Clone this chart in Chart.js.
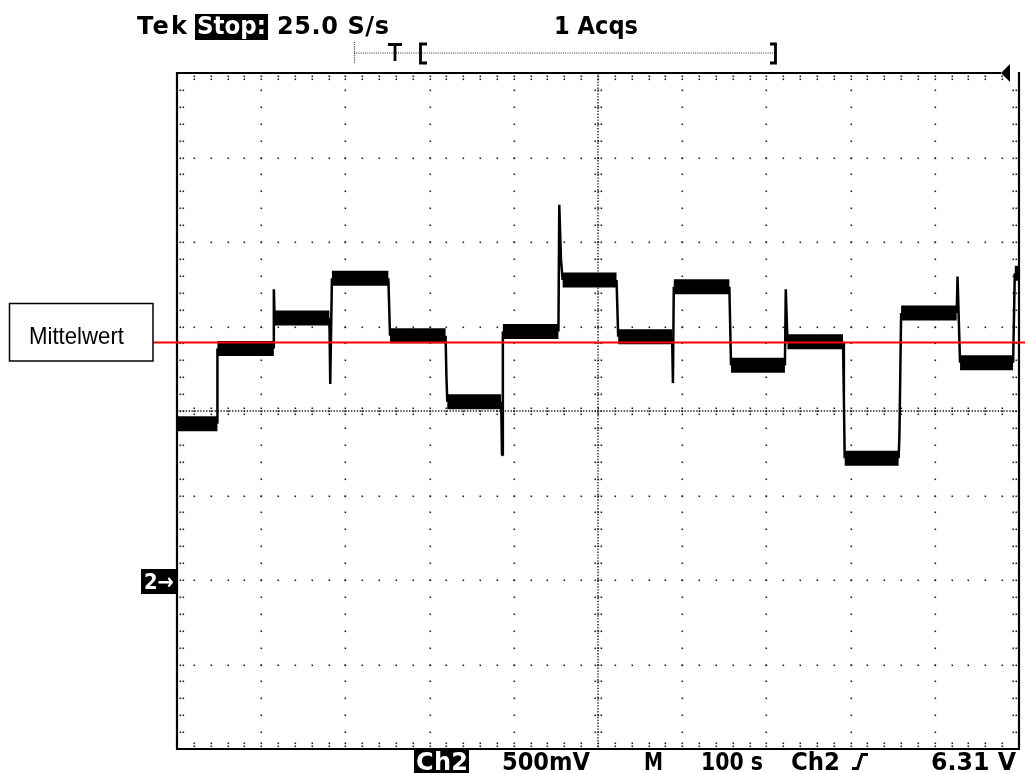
<!DOCTYPE html>
<html>
<head>
<meta charset="utf-8">
<script src="https://cdn.jsdelivr.net/npm/chart.js@4.4.1/dist/chart.umd.min.js"></script>
<style>
  html, body { margin: 0; padding: 0; background: #fff; }
  #wrap { position: relative; width: 1025px; height: 773px; }
</style>
</head>
<body>
<div id="wrap"><canvas id="scope"></canvas></div>
<script>
// Ch2 trace: time in s (100 s/div), volts above the "2->" marker (500 mV/div)
const traceTime = [0, 48, 48, 115, 115, 116, 181, 182, 184, 251, 253, 319, 320, 321, 385, 386, 387,
  453, 454, 456, 458, 522, 524, 588, 589, 590, 656, 658, 722, 723, 725, 791, 792, 793,
  857, 858, 860, 926, 927, 930, 993, 995, 1000];
const traceVolt = [0.925, 0.925, 1.37, 1.37, 1.72, 1.55, 1.55, 1.16, 1.785, 1.785, 1.445, 1.445, 1.2, 1.055, 1.055, 0.74, 1.47,
  1.47, 2.22, 1.90, 1.775, 1.775, 1.44, 1.44, 1.165, 1.735, 1.735, 1.27, 1.27, 1.72, 1.41, 1.41, 1.08, 0.72,
  0.72, 0.86, 1.58, 1.58, 1.795, 1.285, 1.285, 1.815, 1.815];
const meanVolt = 1.405;          // red "Mittelwert" line
const timeDivs = [0, 100, 200, 300, 400, 500, 600, 700, 800, 900, 1000];
const voltDivs = [-1, -0.5, 0, 0.5, 1, 1.5, 2, 2.5, 3];
const minorPerDiv = 5;
const topReadout = ['Tek', 'Stop:', '25.0 S/s', '1 Acqs'];
const bottomReadout = ['Ch2', '500mV', 'M', '100 s', 'Ch2', '6.31 V'];
const meanLabel = 'Mittelwert';

const TEK_FONT = 'bold 24px "DejaVu Sans"';

// squeeze or spread a string so it covers x0..x1
function fitText(ctx, s, x0, x1, base) {
  ctx.letterSpacing = '0px';
  const w = ctx.measureText(s).width, target = x1 - x0;
  if (w > target) {
    ctx.save();
    ctx.translate(x0, base);
    ctx.scale(target / w, 1);
    ctx.fillText(s, 0, 0);
    ctx.restore();
  } else {
    ctx.letterSpacing = ((target - w) / Math.max(1, s.length - 1)) + 'px';
    ctx.fillText(s, x0, base);
    ctx.letterSpacing = '0px';
  }
}

function dot(ctx, x, y) { ctx.fillRect(Math.round(x) - 0.5, Math.round(y) - 0.5, 1.6, 1.6); }

const scopeGrid = {
  id: 'scopeGrid',
  beforeDatasetsDraw(chart) {
    const { ctx, chartArea: a, scales: { x, y } } = chart;
    const tStep = (timeDivs[1] - timeDivs[0]) / minorPerDiv;
    const vStep = (voltDivs[1] - voltDivs[0]) / minorPerDiv;
    const nT = (timeDivs.length - 1) * minorPerDiv, nV = (voltDivs.length - 1) * minorPerDiv;
    const tMid = timeDivs[(timeDivs.length - 1) / 2], vMid = voltDivs[(voltDivs.length - 1) / 2];
    ctx.save();
    ctx.fillStyle = '#222';

    // dotted division lines
    timeDivs.slice(1, -1).forEach(t => {
      if (t === tMid) return;
      const px = x.getPixelForValue(t);
      for (let i = 1; i < nV; i++) dot(ctx, px, y.getPixelForValue(voltDivs[0] + i * vStep));
    });
    voltDivs.slice(1, -1).forEach(v => {
      if (v === vMid) return;
      const py = y.getPixelForValue(v);
      for (let i = 1; i < nT; i++) dot(ctx, x.getPixelForValue(timeDivs[0] + i * tStep), py);
    });

    // centre cross with minor ticks
    const cx = x.getPixelForValue(tMid), cy = y.getPixelForValue(vMid);
    ctx.strokeStyle = '#222';
    ctx.lineWidth = 1.4;
    ctx.setLineDash([1.4, 1.5]);
    ctx.beginPath();
    ctx.moveTo(a.left, cy); ctx.lineTo(a.right, cy);
    ctx.moveTo(cx, a.top); ctx.lineTo(cx, a.bottom);
    ctx.stroke();
    ctx.setLineDash([]);
    for (let i = 1; i < nT; i++) {
      const px = x.getPixelForValue(timeDivs[0] + i * tStep);
      [-3, 0, 3].forEach(d => dot(ctx, px, cy + d));
    }
    for (let i = 1; i < nV; i++) {
      const py = y.getPixelForValue(voltDivs[0] + i * vStep);
      [-3, 0, 3].forEach(d => dot(ctx, cx + d, py));
    }

    // border ticks
    for (let i = 1; i < nT; i++) {
      const px = x.getPixelForValue(timeDivs[0] + i * tStep);
      dot(ctx, px, a.top + 3); dot(ctx, px, a.top + 6);
      dot(ctx, px, a.bottom - 3); dot(ctx, px, a.bottom - 6);
    }
    for (let i = 1; i < nV; i++) {
      const py = y.getPixelForValue(voltDivs[0] + i * vStep);
      dot(ctx, a.left + 3, py); dot(ctx, a.left + 6, py);
      dot(ctx, a.right - 3, py); dot(ctx, a.right - 6, py);
    }

    // frame
    ctx.strokeStyle = '#000';
    ctx.lineWidth = 2.2;
    ctx.beginPath();
    ctx.moveTo(a.left, a.top - 1); ctx.lineTo(a.left, a.bottom);
    ctx.lineTo(a.right, a.bottom); ctx.lineTo(a.right, a.top - 1);
    ctx.moveTo(a.left, a.top); ctx.lineTo(a.right - 18, a.top);
    ctx.stroke();
    ctx.restore();
  }
};

const meanLine = {
  id: 'meanLine',
  afterDatasetsDraw(chart) {
    const { ctx, scales: { y } } = chart;
    const py = y.getPixelForValue(meanVolt);
    ctx.save();
    ctx.strokeStyle = '#ff0000';
    ctx.lineWidth = 2;
    ctx.beginPath();
    ctx.moveTo(153, py); ctx.lineTo(chart.width, py);
    ctx.stroke();

    // label box
    ctx.strokeStyle = '#000';
    ctx.lineWidth = 1.5;
    ctx.strokeRect(9.5, 303.5, 143.5, 57.5);
    ctx.fillStyle = '#000';
    ctx.font = '24px "Liberation Sans"';
    fitText(ctx, meanLabel, 29, 124, 344);
    ctx.restore();
  }
};

const readouts = {
  id: 'readouts',
  afterDraw(chart) {
    const { ctx, chartArea: a, scales: { y } } = chart;
    ctx.save();
    ctx.textBaseline = 'alphabetic';
    ctx.font = TEK_FONT;

    // top line
    ctx.fillStyle = '#000';
    fitText(ctx, topReadout[0], 137, 187, 34);
    ctx.fillRect(195, 14, 73, 26);
    ctx.fillStyle = '#fff';
    fitText(ctx, topReadout[1], 197, 266, 34);
    ctx.fillStyle = '#000';
    fitText(ctx, topReadout[2], 277, 389, 34);
    fitText(ctx, topReadout[3], 554, 638, 34);

    // record / trigger position bar
    ctx.strokeStyle = '#333';
    ctx.lineWidth = 1.2;
    ctx.setLineDash([1, 1.2]);
    ctx.beginPath();
    ctx.moveTo(354, 53); ctx.lineTo(776, 53);
    ctx.moveTo(354.5, 42); ctx.lineTo(354.5, 64);
    ctx.stroke();
    ctx.setLineDash([]);
    ctx.strokeStyle = '#000';
    ctx.lineWidth = 2.8;
    ctx.beginPath();
    ctx.moveTo(388, 44.5); ctx.lineTo(402, 44.5);
    ctx.moveTo(395, 44.5); ctx.lineTo(395, 61);
    ctx.moveTo(427, 44); ctx.lineTo(420.5, 44); ctx.lineTo(420.5, 63); ctx.lineTo(427, 63);
    ctx.moveTo(770, 44); ctx.lineTo(775.5, 44); ctx.lineTo(775.5, 63); ctx.lineTo(770, 63);
    ctx.stroke();

    // trigger position marker
    ctx.fillStyle = '#000';
    ctx.beginPath();
    ctx.moveTo(a.right - 18, a.top); ctx.lineTo(a.right - 9, a.top - 9); ctx.lineTo(a.right - 9, a.top + 9);
    ctx.closePath();
    ctx.fill();

    // ground marker of Ch2
    const gy = y.getPixelForValue(0);
    ctx.fillRect(141, gy - 11, 35, 25);
    ctx.fillStyle = '#fff';
    ctx.font = 'bold 22px "DejaVu Sans"';
    fitText(ctx, '2\u2192', 144, 174, gy + 9);

    // bottom line
    ctx.font = TEK_FONT;
    ctx.fillStyle = '#000';
    ctx.fillRect(414, 750, 55, 23);
    ctx.fillStyle = '#fff';
    fitText(ctx, bottomReadout[0], 416, 468, 770);
    ctx.fillStyle = '#000';
    fitText(ctx, bottomReadout[1], 502, 590, 770);
    fitText(ctx, bottomReadout[2], 644, 663, 770);
    fitText(ctx, bottomReadout[3], 701, 763, 770);
    fitText(ctx, bottomReadout[4], 791, 840, 770);
    fitText(ctx, bottomReadout[5], 931, 1016, 770);
    ctx.lineWidth = 2.8;
    ctx.beginPath();
    ctx.moveTo(852, 768.5); ctx.lineTo(857.5, 768.5); ctx.lineTo(862, 754.5); ctx.lineTo(868, 754.5);
    ctx.stroke();
    ctx.restore();
  }
};

new Chart(document.getElementById('scope'), {
  type: 'line',
  data: {
    datasets: [{
      data: traceTime.map((t, i) => ({ x: t, y: traceVolt[i] })),
      borderColor: '#000',
      borderWidth: 2.5,
      borderJoinStyle: 'bevel',
      pointRadius: 0,
      tension: 0,
      fill: false,
      // flat stretches are drawn as the thick noisy band, edges as thin strokes
      segment: { borderWidth: c => (c.p0.parsed.y === c.p1.parsed.y ? 15 : 2.5) }
    }]
  },
  options: {
    responsive: true,
    maintainAspectRatio: false,
    animation: false,
    events: [],
    layout: { padding: { left: 177, top: 73, right: 6, bottom: 24 } },
    scales: {
      x: { type: 'linear', min: timeDivs[0], max: timeDivs[timeDivs.length - 1], display: false },
      y: { type: 'linear', min: voltDivs[0], max: voltDivs[voltDivs.length - 1], display: false }
    },
    plugins: { legend: { display: false }, tooltip: { enabled: false } }
  },
  plugins: [scopeGrid, meanLine, readouts]
});
</script>
</body>
</html>
